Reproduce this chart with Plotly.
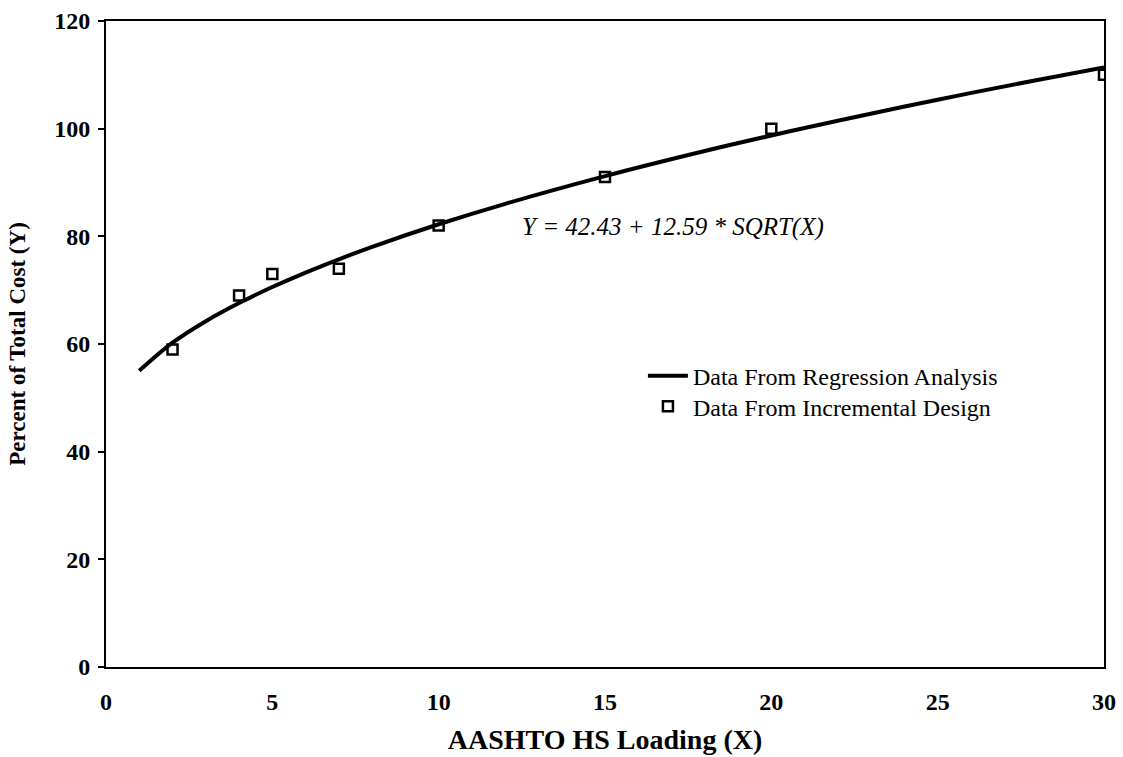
import plotly.graph_objects as go

# Regression curve points (Y = 42.43 + 12.59*sqrt(X))
reg_x = [1, 2, 3, 4, 5, 6, 7, 8, 10, 12, 15, 18, 20, 22, 25, 28, 30]
reg_y = [55.02, 60.24, 64.24, 67.61, 70.58, 73.27, 75.74, 78.04, 82.24,
         86.04, 91.19, 95.85, 98.73, 101.48, 105.38, 109.05, 111.39]

# Incremental design points
inc_x = [2, 4, 5, 7, 10, 15, 20, 30]
inc_y = [59, 69, 73, 74, 82, 91, 100, 110]

x_ticks = [0, 5, 10, 15, 20, 25, 30]
y_ticks = [0, 20, 40, 60, 80, 100, 120]

SERIF = "Liberation Serif"

fig = go.Figure()
fig.add_trace(go.Scatter(
    x=reg_x, y=reg_y, mode="lines", name="Data From Regression Analysis",
    line=dict(color="black", width=4, shape="spline"), legend="legend",
))
fig.add_trace(go.Scatter(
    x=inc_x, y=inc_y, mode="markers", name="Data From Incremental Design",
    marker=dict(symbol="square-open", size=10, color="black", line=dict(width=2.5, color="black")),
    legend="legend2",
))

fig.add_annotation(
    x=17.05, y=81.7, xref="x", yref="y", showarrow=False,
    text="<i>Y = 42.43 + 12.59 * SQRT(X)</i>",
    font=dict(family=SERIF, size=25, color="black"),
)

legend_common = dict(
    xanchor="left", yanchor="top",
    font=dict(family=SERIF, size=24, color="black"),
    bgcolor="rgba(0,0,0,0)", itemwidth=40, tracegroupgap=0,
)

fig.update_layout(
    width=1123, height=757,
    margin=dict(l=106, r=7, t=21, b=87),
    paper_bgcolor="white", plot_bgcolor="white",
    showlegend=True,
    legend=dict(x=0.538, y=0.485, **legend_common),
    legend2=dict(x=0.538, y=0.438, **legend_common),
    xaxis=dict(
        range=[0, 30], tickvals=x_ticks, ticktext=[str(v) for v in x_ticks],
        showgrid=False, zeroline=False, showline=True, linecolor="black", linewidth=2,
        mirror=True, ticks="", ticklabelstandoff=12, ticklabeloverflow="allow",
        tickfont=dict(family=SERIF, size=24, color="black", weight="bold"),
        title=dict(text="<b>AASHTO HS Loading (X)</b>", standoff=16,
                   font=dict(family=SERIF, size=28, color="black")),
    ),
    yaxis=dict(
        range=[0, 120], tickvals=y_ticks, ticktext=[str(v) for v in y_ticks],
        showgrid=False, zeroline=False, showline=True, linecolor="black", linewidth=2,
        mirror=True, ticks="outside", ticklen=6, tickwidth=2, tickcolor="black",
        ticklabelstandoff=3,
        tickfont=dict(family=SERIF, size=24, color="black", weight="bold"),
        title=dict(text="<b>Percent of Total Cost (Y)</b>", standoff=22,
                   font=dict(family=SERIF, size=23, color="black")),
    ),
)

fig.write_html(
    "out.html", config={"displayModeBar": False},
    post_script="document.body.style.margin='0';"
                "document.documentElement.style.overflow='hidden';",
)
